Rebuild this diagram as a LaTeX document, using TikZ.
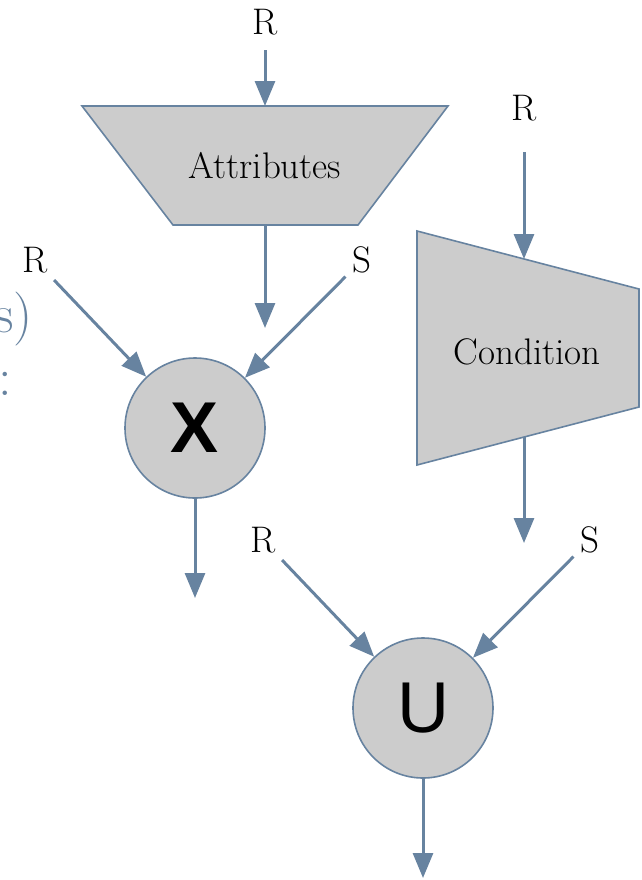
\documentclass[tikz,border=0pt]{standalone}
\usepackage{fontspec}
\newfontfamily\opfont{Liberation Sans}
\usetikzlibrary{arrows.meta,positioning}
\definecolor{slate}{HTML}{6783A0}
\definecolor{boxgray}{HTML}{CCCCCC}

\begin{document}
\begin{tikzpicture}[
  x=0.5pt,y=-0.5pt,
  every node/.style={font=\fontsize{18.5}{21}\selectfont},
  flow/.style={draw=slate,line width=1.5pt,-{Triangle[length=12.5pt,width=10pt]}},
  block/.style={fill=boxgray,draw=slate,line width=0.8pt},
  op/.style={circle,fill=boxgray,draw=slate,line width=0.8pt,minimum size=70pt,inner sep=0pt},
  cut/.style={text=slate,inner sep=0pt,font=\fontsize{27}{30}\selectfont}
]
\useasboundingbox (0,0) rectangle (642,880);
\clip (0,0) rectangle (642,880);

% bout de texte coupe a gauche
\node[cut,anchor=base east] (leftText) at (33,332) {s)};
\node[cut,anchor=base] (leftColon) at (5,395) {:};

% projection : trapeze du haut
\path[block] (82,106) -- (448,106) -- (358,225) -- (173,225) -- cycle;
\node (attr) at (265,166) {Attributes};
\coordinate (attrTop) at (265,106);
\coordinate (attrBot) at (265,225);
\coordinate (attrOut) at (265,328);

% selection : trapeze couche
\path[block] (417,231) -- (639,289) -- (639,407) -- (417,465) -- cycle;
\node (cond) at (527,352) {Condition};
\coordinate (condTop) at (524,259);
\coordinate (condBot) at (524,437);
\coordinate (condOut) at (524,543);

% produit et union
\node[op] (cross) at (195,428) {\opfont\bfseries\fontsize{36}{36}\selectfont X};
\node[op] (union) at (423,708) {\opfont\fontsize{36}{36}\selectfont U};
\coordinate (crossOut) at (195,598);
\coordinate (unionOut) at (423,878);

% etiquettes
\node (rTop) at (265,22) {R};
\node (rCond) at (524,108) {R};
\node (rCross) at (35,260) {R};
\node (sCross) at (362,260) {S};
\node (rUnion) at (263,540) {R};
\node (sUnion) at (590,540) {S};

% fleches
\draw[flow,shorten <=4pt] (rTop) -- (attrTop);
\draw[flow] (attrBot) -- (attrOut);
\draw[flow,shorten <=12pt] (rCond) -- (condTop);
\draw[flow] (condBot) -- (condOut);
\draw[flow] (rCross) -- (cross);
\draw[flow] (sCross) -- (cross);
\draw[flow] (cross) -- (crossOut);
\draw[flow] (rUnion) -- (union);
\draw[flow] (sUnion) -- (union);
\draw[flow] (union) -- (unionOut);
\end{tikzpicture}
\end{document}
